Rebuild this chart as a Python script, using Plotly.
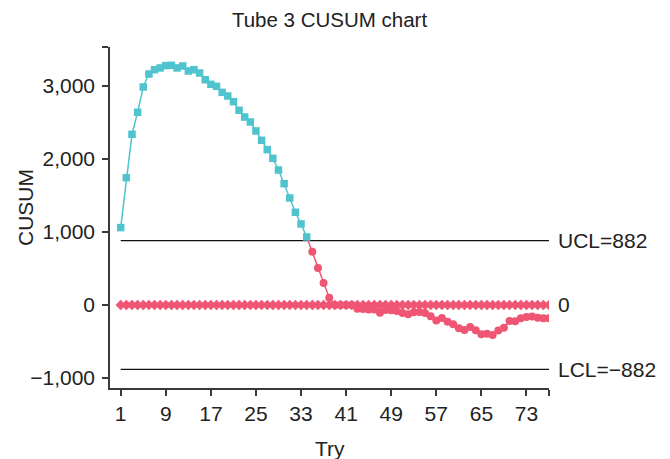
import plotly.graph_objects as go

# ---- data ----
tries = list(range(1, 78))
cusum = [
    1060, 1744, 2338, 2640, 2986, 3164, 3223, 3247, 3279, 3283,
    3247, 3274, 3205, 3223, 3178, 3086, 3023, 2995, 2913, 2863,
    2785, 2667, 2575, 2507, 2384, 2256, 2128, 2009, 1849, 1662,
    1466, 1270, 1110, 932, 730, 507, 301, 100, 0, 0,
    0, 0, -50, -55, -60, -60, -105, -70, -72, -82,
    -110, -128, -100, -95, -110, -155, -211, -178, -229, -265,
    -320, -343, -302, -347, -402, -393, -411, -350, -311, -219,
    -222, -183, -165, -158, -174, -180, -180,
]
zero_line = [0] * len(tries)
UCL = 882
LCL = -882
x_ticks = [1, 9, 17, 25, 33, 41, 49, 57, 65, 73]
y_ticks = [-1000, 0, 1000, 2000, 3000]
y_tick_text = ["\u22121,000", "0", "1,000", "2,000", "3,000"]

CYAN = "#4fc4cf"
RED = "#ef5673"
FONT = "Liberation Sans, Arial, sans-serif"
TXT = "#222222"
AX = "#3a3a3a"
FS = 21

# split: above UCL -> cyan, else red
above = [i for i, v in enumerate(cusum) if v > UCL]
last_above = above[-1]
red_idx = list(range(last_above, len(cusum)))

fig = go.Figure()

# zero reference line with diamonds
fig.add_trace(go.Scatter(
    x=tries, y=zero_line, mode="lines+markers",
    line=dict(color=RED, width=1.5),
    marker=dict(symbol="diamond", size=8, color=RED, line=dict(width=0)),
    showlegend=False, hoverinfo="skip"))

# red (below UCL) part of CUSUM
fig.add_trace(go.Scatter(
    x=[tries[i] for i in red_idx], y=[cusum[i] for i in red_idx],
    mode="lines+markers",
    line=dict(color=RED, width=1.5),
    marker=dict(symbol="circle", size=[0] + [8] * (len(red_idx) - 1), color=RED,
                opacity=1, line=dict(width=0)),
    showlegend=False))

# cyan (above UCL) part
fig.add_trace(go.Scatter(
    x=[tries[i] for i in above], y=[cusum[i] for i in above],
    mode="lines+markers",
    line=dict(color=CYAN, width=1.5),
    marker=dict(symbol="square", size=7.5, color=CYAN, line=dict(width=0)),
    showlegend=False))

x_end = tries[-1]
for lim in (UCL, LCL):
    fig.add_shape(type="line", xref="x", yref="y", x0=tries[0], x1=x_end,
                  y0=lim, y1=lim, line=dict(color="#111111", width=1.2), layer="below")

ann_font = dict(family=FONT, size=FS, color=TXT)
lab_x = 1.017
fig.add_annotation(xref="paper", yref="y", x=lab_x, y=UCL, text="UCL=882",
                   showarrow=False, xanchor="left", yanchor="middle", font=ann_font)
fig.add_annotation(xref="paper", yref="y", x=lab_x, y=0, text="0",
                   showarrow=False, xanchor="left", yanchor="middle", font=ann_font)
fig.add_annotation(xref="paper", yref="y", x=lab_x, y=LCL, text="LCL=\u2212882",
                   showarrow=False, xanchor="left", yanchor="middle", font=ann_font)

# axis titles
fig.add_annotation(xref="paper", yref="paper", x=0.5, y=-60 / 341, text="Try",
                   showarrow=False, xanchor="center", yanchor="middle", font=ann_font)
fig.add_annotation(xref="paper", yref="paper", x=-85 / 439, y=(388 - 208) / 341,
                   text="CUSUM", textangle=-90,
                   showarrow=False, xanchor="center", yanchor="middle", font=ann_font)

fig.update_layout(
    width=670, height=459,
    margin=dict(l=110, r=121, t=47, b=71),
    paper_bgcolor="white", plot_bgcolor="white",
    font=dict(family=FONT, size=FS, color=TXT),
    title=dict(text="Tube 3 CUSUM chart", x=0.5, xref="paper", xanchor="center",
               y=1 - 20 / 459, yref="container", yanchor="middle",
               font=dict(family=FONT, size=20.5, color=TXT)),
    xaxis=dict(range=[-0.9, 77], tickvals=x_ticks + [77],
               ticktext=[str(t) for t in x_ticks] + [""],
               ticks="outside", ticklen=6, tickwidth=1.5, tickcolor=AX,
               showline=True, linecolor=AX, linewidth=1.5,
               showgrid=False, zeroline=False,
               tickfont=dict(family=FONT, size=FS, color=TXT)),
    yaxis=dict(range=[-1137, 3534], tickvals=y_ticks + [3534],
               ticktext=y_tick_text + [""],
               ticks="outside", ticklen=6, tickwidth=1.5, tickcolor=AX,
               showline=True, linecolor=AX, linewidth=1.5,
               showgrid=False, zeroline=False, ticklabelstandoff=3,
               tickfont=dict(family=FONT, size=FS, color=TXT)),
)

fig.write_html("out.html", config={"displayModeBar": False},
               post_script="document.body.style.margin='0';")
